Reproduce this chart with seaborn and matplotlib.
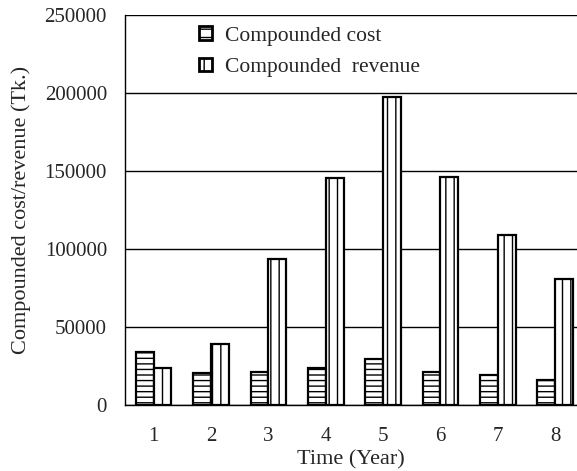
import matplotlib
matplotlib.use("Agg")
import matplotlib.pyplot as plt
import seaborn as sns
import pandas as pd
from matplotlib.patches import Patch

years = ["1", "2", "3", "4", "5", "6", "7", "8"]
cost = [34000, 20500, 21500, 24000, 29500, 21000, 19000, 16000]
revenue = [23700, 39000, 93500, 145500, 197400, 146000, 109000, 80800]
series = ["Compounded cost", "Compounded  revenue"]
hatches = ["---", "||"]

df = pd.DataFrame({
    "year": years * 2,
    "value": cost + revenue,
    "series": [series[0]] * len(years) + [series[1]] * len(years),
})

sns.set_style("white")
plt.rcParams["font.family"] = ["Liberation Serif", "DejaVu Serif"]
plt.rcParams["hatch.linewidth"] = 1.0

fig = plt.figure(figsize=(5.77, 4.71), dpi=100)
ax = fig.add_axes([0.2166, 0.140, 0.7834, 0.828])

sns.barplot(data=df, x="year", y="value", hue="series", ax=ax,
            palette=["white", "white"], width=0.62, gap=0.0,
            edgecolor="black", linewidth=1.6, legend=False, saturation=1)

for cont, h in zip(ax.containers, hatches):
    for bar in cont:
        bar.set_hatch(h)
        bar.set_edgecolor("black")

ax.set_ylim(0, 250000)
ax.set_xlim(-0.5, 7.38)
ax.set_yticks(range(0, 250001, 50000))
ax.yaxis.grid(True, color="black", linewidth=1.0)
ax.set_axisbelow(True)
for s in ["top", "right"]:
    ax.spines[s].set_visible(False)
for s in ["left", "bottom"]:
    ax.spines[s].set_color("black")
    ax.spines[s].set_linewidth(1.0)

ax.set_xticks(range(len(years)))
ax.set_xticklabels(years)
ax.set_xticks([i - 0.5 for i in range(len(years))], minor=True)
ax.tick_params(axis="x", which="major", length=0, pad=16, labelsize=15)
ax.tick_params(axis="x", which="minor", length=6, direction="out", color="black", width=1)
ax.tick_params(axis="y", which="major", length=8, direction="inout", color="black",
               width=1, labelsize=15, pad=9)

ax.set_xlabel("Time (Year)", fontsize=16, labelpad=3)
ax.set_ylabel("Compounded cost/revenue (Tk.)", fontsize=16, labelpad=10)

handles = [Patch(facecolor="white", edgecolor="black", hatch=h, linewidth=2) for h in ["--", "||"]]
ax.legend(handles, series, loc="upper left", bbox_to_anchor=(0.13, 1.01), frameon=False,
          fontsize=15.5, handlelength=0.6, handleheight=0.6, handletextpad=0.6,
          labelspacing=0.55, borderaxespad=0.3)

fig.savefig("out.png", dpi=100)
